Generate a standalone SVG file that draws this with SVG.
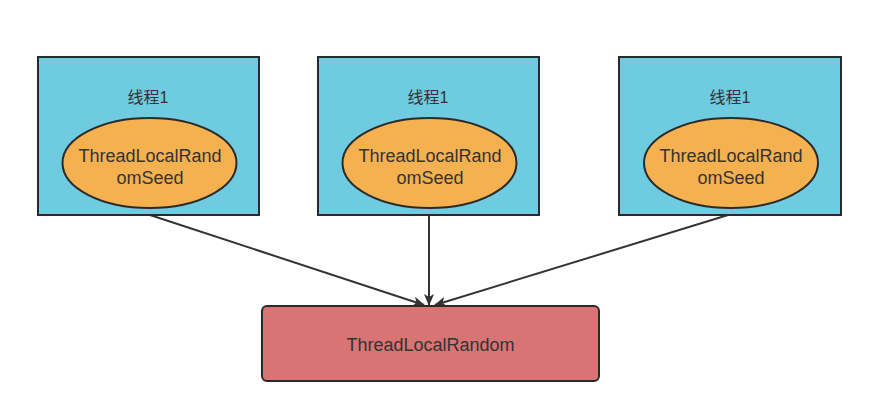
<svg xmlns="http://www.w3.org/2000/svg" width="879" height="418" viewBox="0 0 879 418">
<defs>
<style>
.box{fill:#6fcbdf;stroke:#2a2a2a;stroke-width:2}
.ell{fill:#f5b14f;stroke:#2a2a2a;stroke-width:2}
.main{fill:#d87474;stroke:#2a2a2a;stroke-width:2}
.t{font-family:"Liberation Sans","Noto Sans CJK SC",sans-serif;font-size:18px;fill:#333;text-anchor:middle}
.h{font-size:16px}
.c{stroke:#333;stroke-width:2;fill:none;marker-end:url(#ah)}
</style>
<marker id="ah" markerWidth="12" markerHeight="12" viewBox="0 0 12 12" refX="11" refY="6" orient="auto" markerUnits="userSpaceOnUse">
<path d="M0,1 L12,6 L0,11 L3,6 Z" fill="#333"/>
</marker>
</defs>
<rect width="879" height="418" fill="#fff"/>
<g id="connectors">
<line class="c" x1="150" y1="215" x2="424" y2="305"/>
<line class="c" x1="429" y1="215" x2="429" y2="305"/>
<line class="c" x1="728" y1="215" x2="435" y2="305"/>
</g>
<g id="thread1">
<rect class="box" x="38" y="57" width="221" height="158"/>
<text class="t h" x="148" y="103">线程1</text>
<ellipse class="ell" cx="149.5" cy="163" rx="87" ry="45"/>
<text class="t" x="150" y="162">ThreadLocalRand</text>
<text class="t" x="150" y="184">omSeed</text>
</g>
<g id="thread2">
<rect class="box" x="318" y="57" width="221" height="158"/>
<text class="t h" x="428" y="103">线程1</text>
<ellipse class="ell" cx="429.5" cy="163" rx="87" ry="45"/>
<text class="t" x="430" y="162">ThreadLocalRand</text>
<text class="t" x="430" y="184">omSeed</text>
</g>
<g id="thread3">
<rect class="box" x="619" y="57" width="222" height="158"/>
<text class="t h" x="730" y="103">线程1</text>
<ellipse class="ell" cx="731" cy="163" rx="87" ry="45"/>
<text class="t" x="731" y="162">ThreadLocalRand</text>
<text class="t" x="731" y="184">omSeed</text>
</g>
<g id="tlr">
<rect class="main" x="262" y="306" width="337" height="75" rx="5"/>
<text class="t" x="430.5" y="351">ThreadLocalRandom</text>
</g>
</svg>
